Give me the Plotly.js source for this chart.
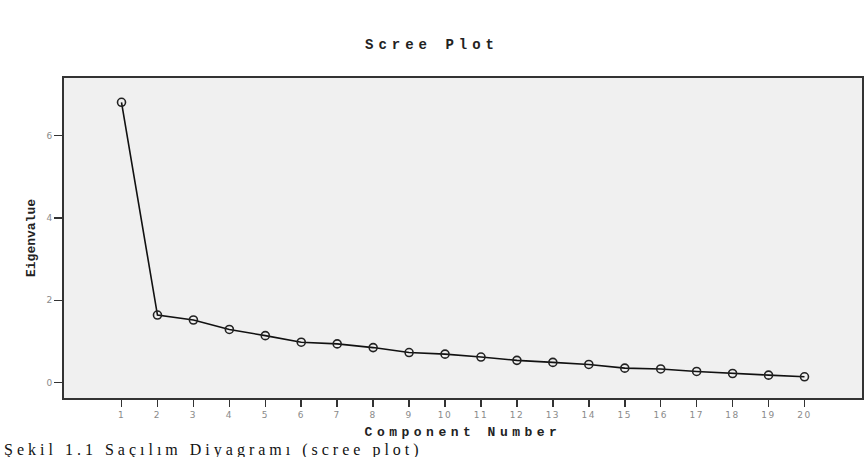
<!DOCTYPE html>
<html>
<head>
<meta charset="utf-8">
<script src="https://cdn.plot.ly/plotly-3.0.1.min.js"></script>
<style>
  html, body { margin: 0; padding: 0; background: #fff; }
  #chart { width: 864px; height: 457px; }
  .gtitle { letter-spacing: 5px; }
  .xtitle { letter-spacing: 4.5px; }
  .xtick text { letter-spacing: 1.5px; }
  .annotation-text { letter-spacing: 4px; }
</style>
</head>
<body>
<div id="chart"></div>
<script>
// Data
const componentNumbers = [1, 2, 3, 4, 5, 6, 7, 8, 9, 10, 11, 12, 13, 14, 15, 16, 17, 18, 19, 20];
const eigenvalues = [6.81, 1.64, 1.52, 1.29, 1.14, 0.98, 0.94, 0.85, 0.73, 0.69, 0.62, 0.54, 0.49, 0.44, 0.35, 0.33, 0.27, 0.22, 0.18, 0.14];
const yTickValues = [0, 2, 4, 6];
const chartTitle = 'Scree Plot';
const xAxisTitle = 'Component Number';
const yAxisTitle = 'Eigenvalue';
const captionText = 'Şekil 1.1 Saçılım Diyagramı (scree plot)';

const trace = {
  x: componentNumbers,
  y: eigenvalues,
  type: 'scatter',
  mode: 'lines+markers',
  line: { color: '#111', width: 1.6 },
  marker: { symbol: 'circle-open', size: 8, color: '#222', line: { width: 1.6, color: '#222' } },
  hoverinfo: 'x+y',
  showlegend: false
};

const layout = {
  width: 864,
  height: 457,
  paper_bgcolor: '#ffffff',
  plot_bgcolor: '#f0f0f0',
  margin: { l: 64, r: 2, t: 78, b: 59 },
  title: {
    text: chartTitle,
    font: { family: 'Liberation Mono, DejaVu Sans Mono, monospace', size: 14, color: '#222', weight: 'bold' },
    x: 0.5, xanchor: 'center',
    y: 1 - 44 / 457, yanchor: 'middle', yref: 'container'
  },
  xaxis: {
    range: [-0.6, 21.6],
    tickmode: 'array',
    tickvals: componentNumbers,
    ticktext: componentNumbers.map(String),
    ticks: 'outside', ticklen: 7, tickwidth: 1.5, tickcolor: '#333',
    tickfont: { family: 'DejaVu Sans, sans-serif', size: 9, color: '#8a8a8a' },
    showgrid: false, zeroline: false,
    showline: true, linecolor: '#333', linewidth: 2, mirror: true,
    title: {
      text: xAxisTitle,
      font: { family: 'Liberation Mono, DejaVu Sans Mono, monospace', size: 13, color: '#222', weight: 'bold' },
      standoff: 8
    }
  },
  yaxis: {
    range: [-0.375, 7.4],
    tickmode: 'array',
    tickvals: yTickValues,
    ticktext: yTickValues.map(String),
    ticks: 'outside', ticklen: 8, tickwidth: 1.5, tickcolor: '#333',
    tickfont: { family: 'DejaVu Sans, sans-serif', size: 9, color: '#8a8a8a' },
    showgrid: false, zeroline: false,
    showline: true, linecolor: '#333', linewidth: 2, mirror: true,
    title: {
      text: yAxisTitle,
      font: { family: 'Liberation Mono, DejaVu Sans Mono, monospace', size: 13, color: '#222', weight: 'bold' },
      standoff: 8
    }
  },
  annotations: [{
    text: captionText,
    xref: 'paper', yref: 'paper',
    x: -0.0777, xanchor: 'left',
    y: -0.196, yanchor: 'bottom',
    showarrow: false,
    font: { family: 'Liberation Serif, DejaVu Serif, serif', size: 16, color: '#111' }
  }]
};

Plotly.newPlot('chart', [trace], layout, { displayModeBar: false, staticPlot: true });
</script>
</body>
</html>
